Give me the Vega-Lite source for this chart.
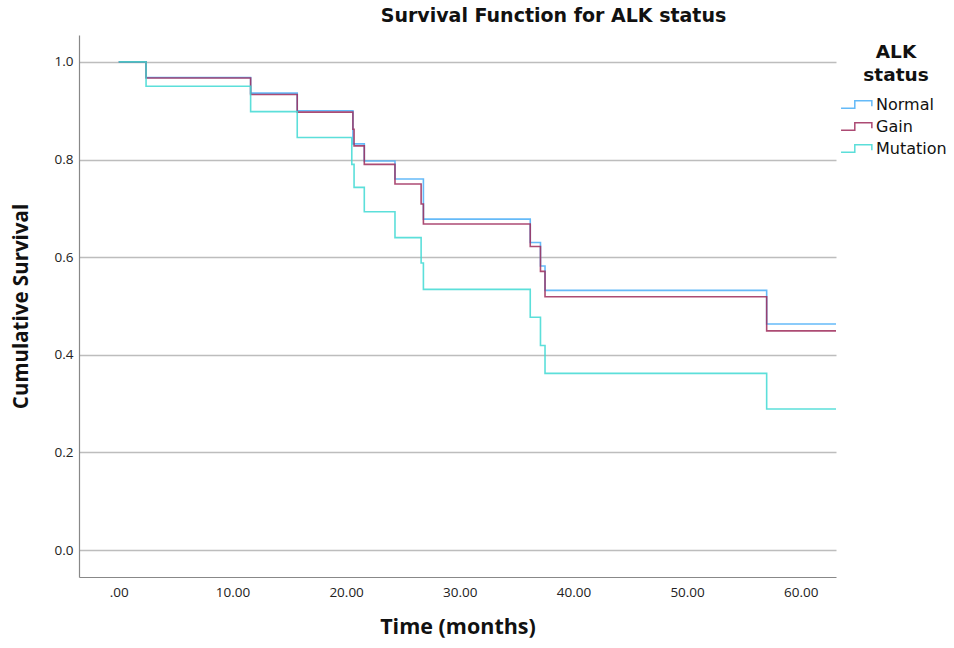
{
  "$schema": "https://vega.github.io/schema/vega-lite/v6.json",
  "width": 757,
  "height": 542,
  "autosize": {"type": "none"},
  "padding": {"left": 79, "top": 35, "right": 118, "bottom": 71},
  "background": "white",
  "config": {"view": {"stroke": null}, "font": "Open Sans"},
  "title": {
    "text": "Survival Function for ALK status",
    "fontSize": 19,
    "fontWeight": "bold",
    "color": "#111111",
    "font": "DejaVu Sans",
    "anchor": "middle",
    "frame": "group",
    "dx": 96,
    "offset": 9
  },
  "data": {
    "values": [
      {"group": "Normal", "t": 0, "s": 1.0},
      {"group": "Normal", "t": 2.4, "s": 0.968},
      {"group": "Normal", "t": 11.6, "s": 0.936},
      {"group": "Normal", "t": 15.7, "s": 0.900},
      {"group": "Normal", "t": 20.6, "s": 0.832},
      {"group": "Normal", "t": 21.6, "s": 0.797},
      {"group": "Normal", "t": 24.3, "s": 0.760},
      {"group": "Normal", "t": 26.8, "s": 0.678},
      {"group": "Normal", "t": 36.2, "s": 0.630},
      {"group": "Normal", "t": 37.1, "s": 0.582},
      {"group": "Normal", "t": 37.5, "s": 0.532},
      {"group": "Normal", "t": 57.0, "s": 0.463},
      {"group": "Normal", "t": 63.1, "s": 0.463},
      {"group": "Gain", "t": 0, "s": 1.0},
      {"group": "Gain", "t": 2.4, "s": 0.967},
      {"group": "Gain", "t": 11.6, "s": 0.933},
      {"group": "Gain", "t": 15.7, "s": 0.897},
      {"group": "Gain", "t": 20.6, "s": 0.862},
      {"group": "Gain", "t": 20.7, "s": 0.828},
      {"group": "Gain", "t": 21.6, "s": 0.790},
      {"group": "Gain", "t": 24.3, "s": 0.750},
      {"group": "Gain", "t": 26.6, "s": 0.709},
      {"group": "Gain", "t": 26.8, "s": 0.668},
      {"group": "Gain", "t": 36.2, "s": 0.622},
      {"group": "Gain", "t": 37.1, "s": 0.571},
      {"group": "Gain", "t": 37.5, "s": 0.519},
      {"group": "Gain", "t": 57.0, "s": 0.449},
      {"group": "Gain", "t": 63.1, "s": 0.449},
      {"group": "Mutation", "t": 0, "s": 1.0},
      {"group": "Mutation", "t": 2.4, "s": 0.950},
      {"group": "Mutation", "t": 11.6, "s": 0.898},
      {"group": "Mutation", "t": 15.7, "s": 0.845},
      {"group": "Mutation", "t": 20.5, "s": 0.790},
      {"group": "Mutation", "t": 20.7, "s": 0.743},
      {"group": "Mutation", "t": 21.6, "s": 0.693},
      {"group": "Mutation", "t": 24.3, "s": 0.640},
      {"group": "Mutation", "t": 26.6, "s": 0.588},
      {"group": "Mutation", "t": 26.8, "s": 0.534},
      {"group": "Mutation", "t": 36.2, "s": 0.477},
      {"group": "Mutation", "t": 37.1, "s": 0.419},
      {"group": "Mutation", "t": 37.5, "s": 0.362},
      {"group": "Mutation", "t": 57.0, "s": 0.289},
      {"group": "Mutation", "t": 63.1, "s": 0.289}
    ]
  },
  "mark": {"type": "line", "interpolate": "step-after", "strokeWidth": 1.6, "opacity": 0.85, "clip": true},
  "encoding": {
    "x": {
      "field": "t",
      "type": "quantitative",
      "scale": {"domain": [-3.5, 63.1], "nice": false, "zero": false},
      "axis": {
        "title": "Time (months)",
        "values": [0, 10, 20, 30, 40, 50, 60],
        "labelExpr": "datum.value == 0 ? '.00' : format(datum.value, '.2f')",
        "grid": false,
        "ticks": false,
        "domainColor": "#888888",
        "domainWidth": 1.2,
        "labelFont": "Open Sans",
        "labelFontSize": 13.5,
        "labelColor": "#222222",
        "labelPadding": 8,
        "titleFont": "Open Sans",
        "titleFontSize": 21.5,
        "titleFontWeight": "bold",
        "titleColor": "#111111",
        "titlePadding": 18
      }
    },
    "y": {
      "field": "s",
      "type": "quantitative",
      "scale": {"domain": [-0.055, 1.055], "nice": false, "zero": false},
      "axis": {
        "title": "Cumulative Survival",
        "values": [0, 0.2, 0.4, 0.6, 0.8, 1.0],
        "format": ".1f",
        "grid": true,
        "gridColor": "#bdbdbd",
        "gridWidth": 1.3,
        "ticks": false,
        "domainColor": "#888888",
        "domainWidth": 1.2,
        "labelFont": "Open Sans",
        "labelFontSize": 13.5,
        "labelColor": "#222222",
        "labelPadding": 6,
        "titleFont": "Open Sans",
        "titleFontSize": 20.5,
        "titleFontWeight": "bold",
        "titleColor": "#111111",
        "titlePadding": 23
      }
    },
    "stroke": {
      "field": "group",
      "type": "nominal",
      "scale": {"domain": ["Normal", "Gain", "Mutation"], "range": ["#4aaef7", "#9e2b5b", "#3fd9d3"]},
      "legend": {
        "title": ["ALK", "status"],
        "orient": "none",
        "legendX": 766,
        "legendY": 8,
        "titleFont": "DejaVu Sans",
        "titleFontSize": 18.5,
        "titleFontWeight": "bold",
        "titleColor": "#111111",
        "titleAlign": "center",
        "titleAnchor": "middle",
        "titleLineHeight": 23,
        "titlePadding": 8,
        "symbolType": "M-1.45,0.35L-0.2,0.35L-0.2,-0.35L1.35,-0.35L1.35,0.15",
        "symbolSize": 484,
        "symbolStrokeWidth": 1.5,
        "symbolFillColor": "transparent",
        "labelFont": "DejaVu Sans",
        "labelFontSize": 16,
        "labelColor": "#111111",
        "labelOffset": 7,
        "rowPadding": 2
      }
    }
  }
}
